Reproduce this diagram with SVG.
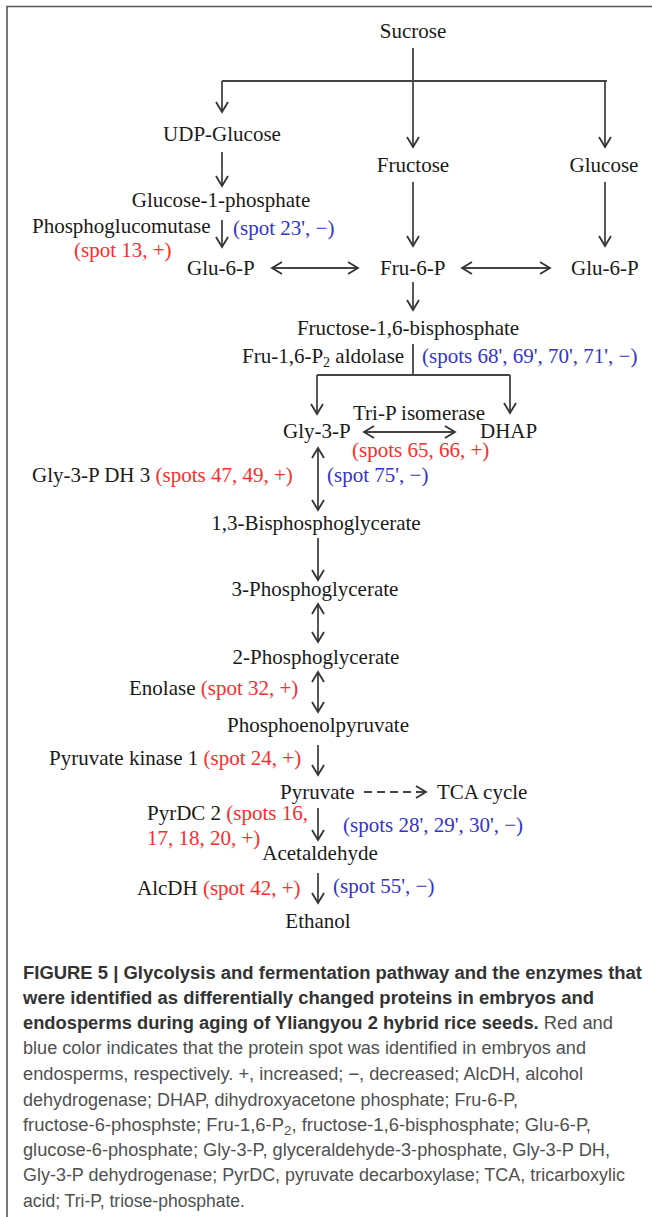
<svg xmlns="http://www.w3.org/2000/svg" width="652" height="1217" viewBox="0 0 652 1217">
<style>
.t{font-family:"Liberation Serif","Times New Roman",serif;font-size:21px;fill:#1a1a1a}
.r{fill:#ff2b2b}
.b{fill:#3434c8}
.m{text-anchor:middle}
.c{font-family:"Liberation Sans",Arial,sans-serif;font-size:18px;fill:#505050}
.cb{font-weight:bold;fill:#333}
.ln{fill:none;stroke:#444;stroke-width:1.8}
.ar{marker-end:url(#ah)}
.da{marker-start:url(#ah);marker-end:url(#ah)}
</style>
<defs>
<marker id="ah" markerUnits="userSpaceOnUse" viewBox="0 0 14 14" markerWidth="14" markerHeight="14" refX="12" refY="7" orient="auto-start-reverse">
<path d="M2,1 L12,7 L2,13" fill="none" stroke="#333" stroke-width="1.8"/>
</marker>
</defs>
<rect width="652" height="1217" fill="#fff"/>
<path d="M7,1217 V6.5 H652" fill="none" stroke="#555" stroke-width="1.6"/>

<g id="connectors">
<path class="ln" d="M413,48 V81 M222,81 H607"/>
<path class="ln ar" d="M222,81 V112"/>
<path class="ln ar" d="M413,81 V147"/>
<path class="ln ar" d="M605,81 V147"/>
<path class="ln ar" d="M222,152 V186"/>
<path class="ln ar" d="M222,220 V247"/>
<path class="ln ar" d="M413,182 V246"/>
<path class="ln ar" d="M605,182 V246"/>
<path class="ln da" d="M272,268 H358"/>
<path class="ln da" d="M462,268 H550"/>
<path class="ln ar" d="M413,282 V310"/>
<path class="ln" d="M413,344 V375 M317,375 H510"/>
<path class="ln ar" d="M317,375 V414"/>
<path class="ln ar" d="M510,375 V413"/>
<path class="ln da" d="M364,432 H455"/>
<path class="ln da" d="M318,448 V510"/>
<path class="ln ar" d="M318,538 V580"/>
<path class="ln da" d="M318,604 V642"/>
<path class="ln da" d="M318,672 V712"/>
<path class="ln ar" d="M318,745 V775"/>
<path class="ln ar" d="M364,792 H426" stroke-dasharray="8,5"/>
<path class="ln ar" d="M318,808 V840"/>
<path class="ln ar" d="M318,873 V903"/>
</g>

<g id="sucrose"><text class="t m" x="413" y="38">Sucrose</text></g>
<g id="udp-glucose"><text class="t m" x="222" y="141">UDP-Glucose</text></g>
<g id="fructose"><text class="t m" x="413" y="172">Fructose</text></g>
<g id="glucose"><text class="t m" x="604" y="172">Glucose</text></g>
<g id="glucose-1-phosphate"><text class="t m" x="221" y="207">Glucose-1-phosphate</text></g>
<g id="phosphoglucomutase">
<text class="t" x="32" y="233">Phosphoglucomutase</text>
<text class="t b" x="233" y="235">(spot 23', −)</text>
<text class="t r" x="74" y="257">(spot 13, +)</text>
</g>
<g id="glu-6-p-left"><text class="t" x="187" y="275">Glu-6-P</text></g>
<g id="fru-6-p"><text class="t" x="380" y="275">Fru-6-P</text></g>
<g id="glu-6-p-right"><text class="t" x="571" y="275">Glu-6-P</text></g>
<g id="fructose-1-6-bisphosphate"><text class="t m" x="408" y="335">Fructose-1,6-bisphosphate</text></g>
<g id="aldolase">
<text class="t" x="242" y="363">Fru-1,6-P<tspan font-size="14" dy="4">2</tspan><tspan dy="-4"> aldolase</tspan></text>
<text class="t b" x="422" y="363">(spots 68', 69', 70', 71', −)</text>
</g>
<g id="tri-p-isomerase">
<text class="t" x="353" y="420">Tri-P isomerase</text>
<text class="t r" x="352" y="457">(spots 65, 66, +)</text>
</g>
<g id="gly-3-p"><text class="t" x="283" y="438">Gly-3-P</text></g>
<g id="dhap"><text class="t" x="480" y="438">DHAP</text></g>
<g id="gly-3-p-dh">
<text class="t" x="32" y="482">Gly-3-P DH 3 <tspan class="r">(spots 47, 49, +)</tspan></text>
<text class="t b" x="327" y="482">(spot 75', −)</text>
</g>
<g id="bisphosphoglycerate"><text class="t m" x="316" y="530">1,3-Bisphosphoglycerate</text></g>
<g id="phosphoglycerate-3"><text class="t m" x="315" y="596">3-Phosphoglycerate</text></g>
<g id="phosphoglycerate-2"><text class="t m" x="316" y="664">2-Phosphoglycerate</text></g>
<g id="enolase"><text class="t" x="129" y="695">Enolase <tspan class="r">(spot 32, +)</tspan></text></g>
<g id="phosphoenolpyruvate"><text class="t m" x="318" y="732">Phosphoenolpyruvate</text></g>
<g id="pyruvate-kinase"><text class="t" x="49" y="765">Pyruvate kinase 1 <tspan class="r">(spot 24, +)</tspan></text></g>
<g id="pyruvate"><text class="t" x="280" y="799">Pyruvate</text></g>
<g id="tca-cycle"><text class="t" x="437" y="799">TCA cycle</text></g>
<g id="pyrdc">
<text class="t" x="147" y="820">PyrDC 2 <tspan class="r">(spots  16,</tspan></text>
<text class="t r" x="147" y="845">17, 18, 20, +)</text>
<text class="t b" x="343" y="832">(spots 28', 29', 30', −)</text>
</g>
<g id="acetaldehyde"><text class="t m" x="320" y="860">Acetaldehyde</text></g>
<g id="alcdh">
<text class="t" x="137" y="895">AlcDH <tspan class="r">(spot 42, +)</tspan></text>
<text class="t b" x="333" y="893">(spot 55', −)</text>
</g>
<g id="ethanol"><text class="t m" x="318" y="928">Ethanol</text></g>

<g id="caption">
<text class="c cb" x="23" y="979" textLength="619" lengthAdjust="spacingAndGlyphs">FIGURE 5 | Glycolysis and fermentation pathway and the enzymes that</text>
<text class="c cb" x="23" y="1004" textLength="571" lengthAdjust="spacingAndGlyphs">were identified as differentially changed proteins in embryos and</text>
<text class="c" x="23" y="1029" textLength="590" lengthAdjust="spacingAndGlyphs"><tspan class="cb">endosperms during aging of Yliangyou 2 hybrid rice seeds.</tspan> Red and</text>
<text class="c" x="23" y="1054" textLength="563" lengthAdjust="spacingAndGlyphs">blue color indicates that the protein spot was identified in embryos and</text>
<text class="c" x="23" y="1080" textLength="560" lengthAdjust="spacingAndGlyphs">endosperms, respectively. +, increased; −, decreased; AlcDH, alcohol</text>
<text class="c" x="23" y="1106" textLength="495" lengthAdjust="spacingAndGlyphs">dehydrogenase; DHAP, dihydroxyacetone phosphate; Fru-6-P,</text>
<text class="c" x="23" y="1131" textLength="568" lengthAdjust="spacingAndGlyphs">fructose-6-phosphste; Fru-1,6-P<tspan font-size="13" dy="4">2</tspan><tspan dy="-4">, fructose-1,6-bisphosphate; Glu-6-P,</tspan></text>
<text class="c" x="23" y="1156" textLength="587" lengthAdjust="spacingAndGlyphs">glucose-6-phosphate; Gly-3-P, glyceraldehyde-3-phosphate, Gly-3-P DH,</text>
<text class="c" x="23" y="1181" textLength="602" lengthAdjust="spacingAndGlyphs">Gly-3-P dehydrogenase; PyrDC, pyruvate decarboxylase; TCA, tricarboxylic</text>
<text class="c" x="23" y="1207" textLength="222" lengthAdjust="spacingAndGlyphs">acid; Tri-P, triose-phosphate.</text>
</g>
</svg>
